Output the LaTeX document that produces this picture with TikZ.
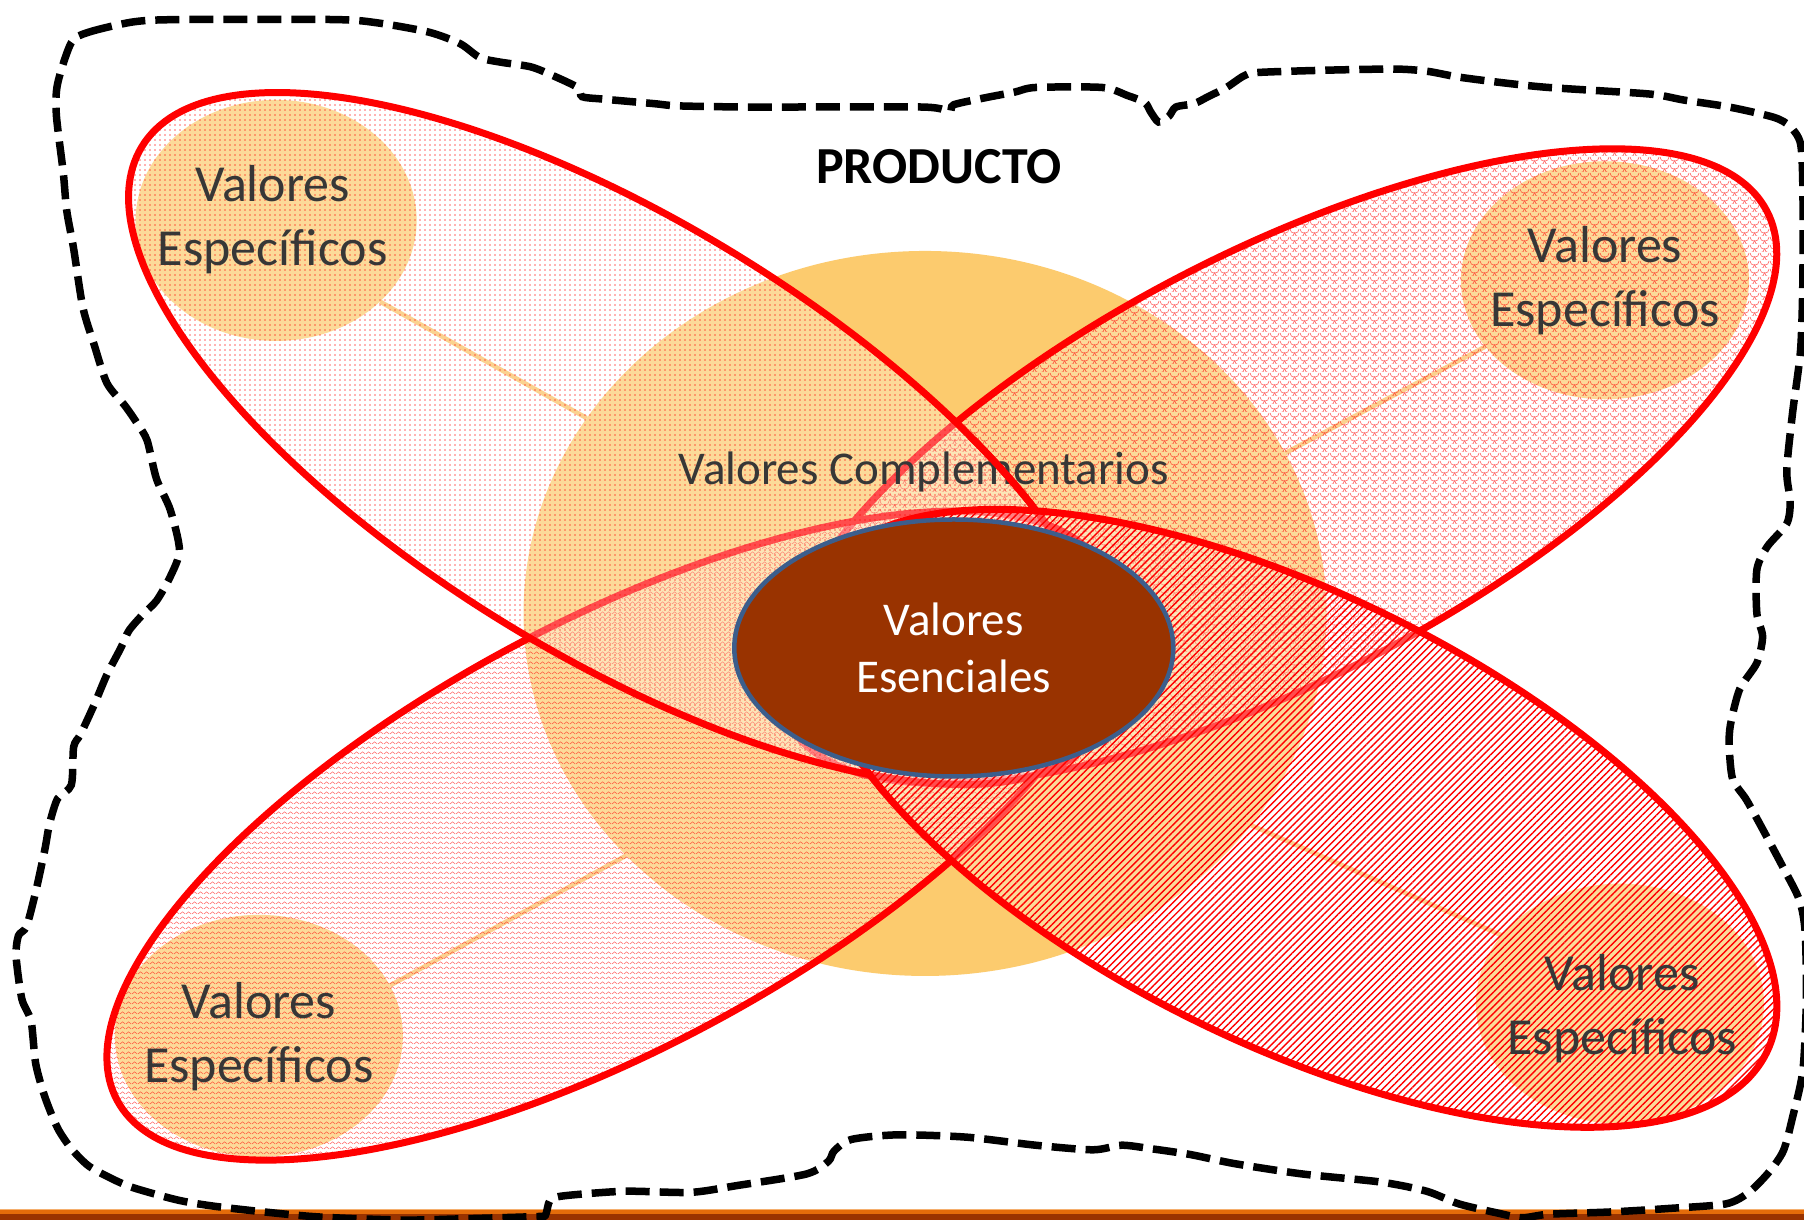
\documentclass[tikz,border=0pt]{standalone}
\usepackage{fontspec}
\setmainfont{Carlito}
\usetikzlibrary{shapes.geometric,patterns,patterns.meta}

\definecolor{circfill}{RGB}{252,203,110}
\definecolor{linkcol}{RGB}{250,190,95}
\definecolor{esscol}{RGB}{153,51,0}
\definecolor{essborder}{RGB}{60,94,140}
\definecolor{txtgray}{RGB}{55,55,55}
\definecolor{barorange}{RGB}{228,108,10}
\definecolor{barbrown}{RGB}{153,51,0}
\definecolor{barlight}{RGB}{245,175,110}

\tikzdeclarepattern{name=zigzagpat, type=uncolored,
  bounding box={(0pt,0pt) and (6pt,5pt)}, tile size={(6pt,5pt)},
  code={\draw[line width=0.7pt] (0pt,1.2pt) -- (3pt,3.8pt) -- (6pt,1.2pt);}}
\tikzdeclarepattern{name=scalepat, type=uncolored,
  bounding box={(0pt,0pt) and (10pt,8pt)}, tile size={(10pt,8pt)},
  code={\draw[line width=0.7pt] (0pt,8pt) arc[start angle=180,end angle=360,radius=5pt];
        \draw[line width=0.7pt] (-5pt,4pt) arc[start angle=180,end angle=360,radius=5pt];
        \draw[line width=0.7pt] (5pt,4pt) arc[start angle=180,end angle=360,radius=5pt];}}

\newcommand\drawpetal[7]{%
  \begin{scope}[rotate around={#5:(#1,#2)}]
    \fill[white, fill opacity=0.3] (#1,#2) ellipse [x radius=#3, y radius=#4];
    \fill[pattern={#6}, pattern color=red, fill opacity=#7] (#1,#2) ellipse [x radius=#3, y radius=#4];
    \draw[red, line width=7pt] (#1,#2) ellipse [x radius=#3, y radius=#4];
  \end{scope}}

\tikzset{
  specbox/.style={ellipse, fill=circfill, inner sep=0pt},
  spectext/.style={font=\fontsize{52}{64}\selectfont, text=txtgray, align=center},
  linkline/.style={draw=linkcol, line width=4.5pt},
}

\begin{document}
\begin{tikzpicture}[x=1.15051pt, y=-1.15094pt]
\useasboundingbox (0,0) rectangle (1568,1060);
\fill[white] (0,0) rectangle (1568,1060);

% complementary circle
\node[specbox, minimum width=803pt, minimum height=725pt] (comp) at (804,533) {};

% specific value circles
\node[specbox, minimum width=281pt, minimum height=241pt] (tl) at (240,191.5) {};
\node[specbox, minimum width=288pt, minimum height=238pt] (tr) at (1395,243.5) {};
\node[specbox, minimum width=288pt, minimum height=242pt] (bl) at (225,900) {};
\node[specbox, minimum width=288pt, minimum height=240pt] (br) at (1408,872) {};

% connectors
\draw[linkline] (tl.-38) -- (comp.150);
\draw[linkline] (tr.209) -- (comp.24);
\draw[linkline] (bl.21) -- (comp.219);
\draw[linkline] (br.150) -- (comp.-33);

% petals
\drawpetal{1110}{405}{480}{185}{27.5}{scalepat}{0.6}
\drawpetal{531}{726}{487}{185}{28.2}{zigzagpat}{0.55}
\drawpetal{539}{381}{487}{189}{-31.4}{Dots[distance=5pt,radius=0.8pt]}{0.6}
\drawpetal{1123}{711}{460}{195}{-26.3}{Lines[angle=45,distance=5pt,line width=1.4pt]}{0.45}

% texts
\node[font=\fontsize{47}{57}\selectfont, text=txtgray] (comptext) at (803,410) {Valores Complementarios};
\begin{scope}
  \clip (780,380) rectangle (900,440);
  \draw[red, line width=7pt, rotate around={-31.4:(539,381)}] (539,381) ellipse [x radius=487, y radius=189];
\end{scope}
\node[spectext] (tltext) at (237,191) {Valores\\Específicos};
\node[spectext] (trtext) at (1395,244) {Valores\\Específicos};
\node[spectext] (bltext) at (225,901) {Valores\\Específicos};
\node[spectext] (brtext) at (1410,876) {Valores\\Específicos};

% essential values
\node[ellipse, draw=essborder, line width=4.5pt, fill=esscol, minimum width=439pt,
      minimum height=257pt, inner sep=0pt, text=white,
      font=\fontsize{47}{57}\selectfont, align=center] (ess) at (829,563) {Valores\\Esenciales};

% title
\node[font=\fontsize{52}{62}\selectfont\bfseries] (prod) at (816,145) {PRODUCTO};

% bottom bar
\fill[barbrown] (0,1055) rectangle (1568,1061);
\fill[barorange] (0,1050.6) rectangle (1568,1055.2);
\fill[barlight] (0,1050) rectangle (1568,1050.7);

% dashed outline
\draw[black, line width=7.5pt, dash pattern=on 24pt off 10pt] plot[smooth cycle, tension=0.45] coordinates {
(62,37) (77,28) (116,19) (156,17) (291,17) (329,20) (373,28) (400,38) (417,50) (435,54)
(461,58) (479,65) (502,76) (506,84) (523,86) (568,90) (590,92) (656,93) (802,93) (825,97)
(829,91) (856,85) (882,80) (900,76) (958,76) (980,83) (995,89) (1000,97) (1007,106) (1016,101)
(1022,93) (1038,90) (1050,84) (1066,76) (1081,66) (1093,63) (1152,61) (1213,60) (1241,62) (1268,67)
(1307,72) (1346,76) (1425,81) (1444,83) (1464,87) (1503,93) (1542,102) (1556,110) (1565,125) (1567,164)
(1567,242) (1565,304) (1558,359) (1553,409) (1556,436) (1553,455) (1536,475) (1527,495) (1527,533) (1532,553)
(1527,576) (1512,599) (1504,630) (1503,649) (1506,677) (1518,695) (1534,724) (1550,754) (1564,782) (1569,810)
(1570,870) (1567,930) (1558,971) (1550,1000) (1537,1019) (1520,1036) (1500,1046) (1450,1050) (1400,1053) (1346,1055)
(1323,1058) (1302,1054) (1268,1046) (1240,1035) (1200,1027) (1132,1020) (1073,1011) (1034,1003) (1000,998) (975,995)
(950,999) (900,995) (840,988) (780,986) (740,990) (725,1000) (720,1009) (701,1020) (641,1030) (600,1036)
(543,1035) (490,1039) (478,1043) (474,1056) (466,1057) (400,1059) (349,1060) (272,1057) (194,1049) (156,1043)
(116,1032) (97,1024) (77,1013) (62,998) (50,980) (39,953) (31,924) (27,887) (19,868) (14,831)
(16,813) (23,805) (31,775) (39,738) (43,716) (50,694) (62,682) (64,649) (70,638) (82,612)
(93,586) (105,563) (112,548) (124,534) (136,522) (148,501) (156,478) (148,443) (136,416) (128,383)
(120,369) (109,353) (93,333) (82,300) (72,267) (64,216) (58,183) (55,150) (49,100) (50,73)};
\end{tikzpicture}
\end{document}
